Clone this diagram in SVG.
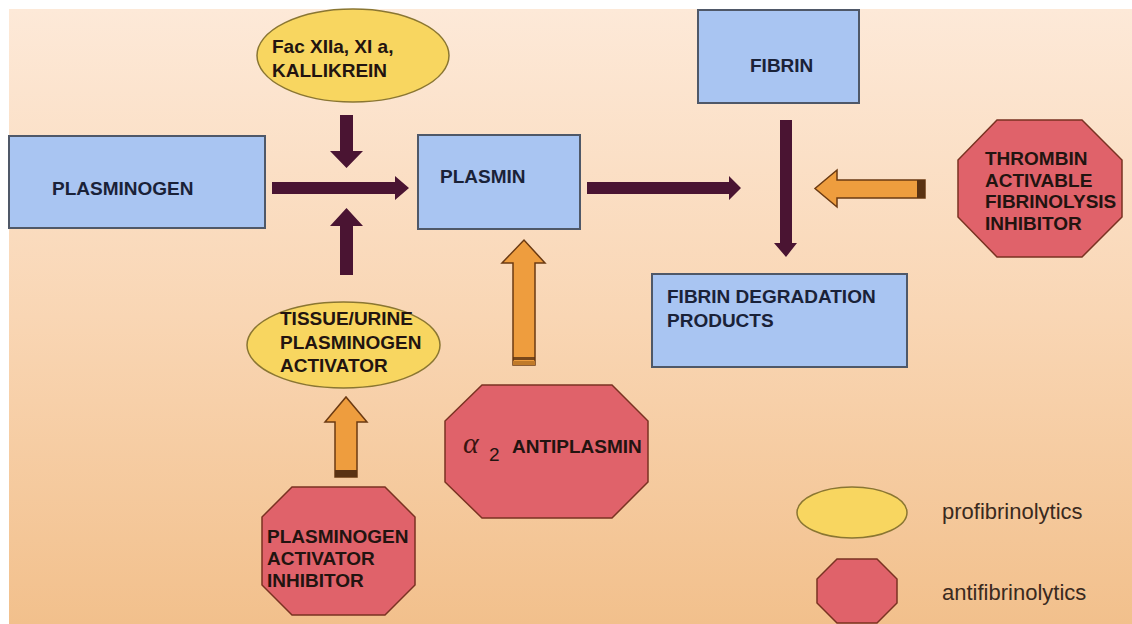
<svg xmlns="http://www.w3.org/2000/svg" width="1132" height="624" viewBox="0 0 1132 624">
  <defs>
    <linearGradient id="bg" x1="0" y1="0" x2="0" y2="1">
      <stop offset="0" stop-color="#fde9d8"/>
      <stop offset="0.5" stop-color="#f9d6b4"/>
      <stop offset="1" stop-color="#f2c08c"/>
    </linearGradient>
    <style>
      .box { fill: #a9c5f2; stroke: #4f5868; stroke-width: 2; }
      .ell { fill: #f8d660; stroke: #8a7632; stroke-width: 1.5; }
      .oct { fill: #e0626a; stroke: #7a3222; stroke-width: 1.5; }
      .dark { fill: #4a1432; }
      .orange { fill: #ee9d3e; stroke: #6b3a12; stroke-width: 1.5; }
      .band { fill: #5a3212; }
      .t { font-family: "Liberation Sans", Arial, sans-serif; font-weight: bold; font-size: 19px; }
      .tb { fill: #1a2238; }
      .tk { fill: #221410; }
      .leg { font-family: "Liberation Sans", Arial, sans-serif; font-size: 22px; fill: #3a2a20; }
    </style>
  </defs>

  <rect x="0" y="0" width="1132" height="624" fill="#ffffff"/>
  <rect x="9" y="9" width="1123" height="615" fill="url(#bg)"/>

  <g id="connectors">
    <!-- Plasminogen -> -->
    <polygon class="dark" points="272,182 395,182 395,176 409,188 395,200 395,194 272,194"/>
    <!-- Fac down -->
    <polygon class="dark" points="340,115 353,115 353,151 363,151 346.5,168 330,151 340,151"/>
    <!-- Tissue up -->
    <polygon class="dark" points="340,275 353,275 353,226 363,226 346.5,208 330,226 340,226"/>
    <!-- Plasmin -> -->
    <polygon class="dark" points="587,182 729,182 729,176 741,188 729,200 729,194 587,194"/>
    <!-- Fibrin down -->
    <polygon class="dark" points="780,120 792,120 792,243 797,243 786,257 774,243 780,243"/>

    <!-- Orange: PAI -> tissue -->
    <polygon class="orange" points="335,477 357,477 357,422 367,422 346,397 325,422 335,422"/>
    <rect class="band" x="335" y="470" width="22" height="7"/>
    <!-- Orange: antiplasmin -> plasmin -->
    <polygon class="orange" points="513,365 535,365 535,263 545,263 524,240 502,263 513,263"/>
    <rect class="band" x="513" y="357" width="22" height="3" opacity="0.8"/>
    <rect x="513" y="361" width="22" height="4" fill="#c07a2a"/>
    <!-- Orange: TAFI -> -->
    <polygon class="orange" points="925,180 925,198 837,198 837,207 815,188.5 837,170 837,180"/>
    <rect class="band" x="917" y="180" width="8" height="18"/>
  </g>

  <g id="plasminogen">
    <rect class="box" x="9" y="136" width="256" height="92"/>
    <text class="t tb" x="52" y="195">PLASMINOGEN</text>
  </g>

  <g id="plasmin">
    <rect class="box" x="418" y="135" width="162" height="94"/>
    <text class="t tb" x="440" y="183">PLASMIN</text>
  </g>

  <g id="fibrin">
    <rect class="box" x="698" y="10" width="161" height="93"/>
    <text class="t tb" x="750" y="72">FIBRIN</text>
  </g>

  <g id="fdp">
    <rect class="box" x="652" y="274" width="255" height="93"/>
    <text class="t tb" x="667" y="303">FIBRIN DEGRADATION</text>
    <text class="t tb" x="667" y="327">PRODUCTS</text>
  </g>

  <g id="fac">
    <ellipse class="ell" cx="353" cy="55.5" rx="96" ry="46.5"/>
    <text class="t tk" x="272" y="53">Fac XIIa, XI a,</text>
    <text class="t tk" x="272" y="77">KALLIKREIN</text>
  </g>

  <g id="tissue">
    <ellipse class="ell" cx="343.5" cy="345" rx="96.5" ry="43"/>
    <text class="t tk" x="280" y="325">TISSUE/URINE</text>
    <text class="t tk" x="280" y="349">PLASMINOGEN</text>
    <text class="t tk" x="280" y="372">ACTIVATOR</text>
  </g>

  <g id="pai">
    <polygon class="oct" points="292,487 385,487 415,517 415,585 385,615 292,615 262,585 262,517"/>
    <text class="t tk" x="267" y="543">PLASMINOGEN</text>
    <text class="t tk" x="267" y="565">ACTIVATOR</text>
    <text class="t tk" x="267" y="587">INHIBITOR</text>
  </g>

  <g id="antiplasmin">
    <polygon class="oct" points="482,385 612,385 648,421 648,482 612,518 482,518 445,482 445,421"/>
    <text x="463" y="453" font-family="'Liberation Serif', serif" font-style="italic" font-size="30" fill="#3a1410">α</text>
    <text x="489" y="461" font-family="'Liberation Sans', Arial, sans-serif" font-size="19" fill="#221410">2</text>
    <text class="t tk" x="512" y="453">ANTIPLASMIN</text>
  </g>

  <g id="tafi">
    <polygon class="oct" points="997,120 1082,120 1122,160 1122,217 1082,257 997,257 958,217 958,160"/>
    <text class="t tk" x="985" y="165">THROMBIN</text>
    <text class="t tk" x="985" y="187">ACTIVABLE</text>
    <text class="t tk" x="985" y="208">FIBRINOLYSIS</text>
    <text class="t tk" x="985" y="230">INHIBITOR</text>
  </g>

  <g id="legend-pro">
    <ellipse class="ell" cx="852" cy="512.5" rx="55" ry="25.5"/>
    <text class="leg" x="942" y="519">profibrinolytics</text>
  </g>

  <g id="legend-anti">
    <polygon class="oct" points="837,559 877,559 897,579 897,603 877,623 837,623 817,603 817,579"/>
    <text class="leg" x="942" y="600">antifibrinolytics</text>
  </g>
</svg>
